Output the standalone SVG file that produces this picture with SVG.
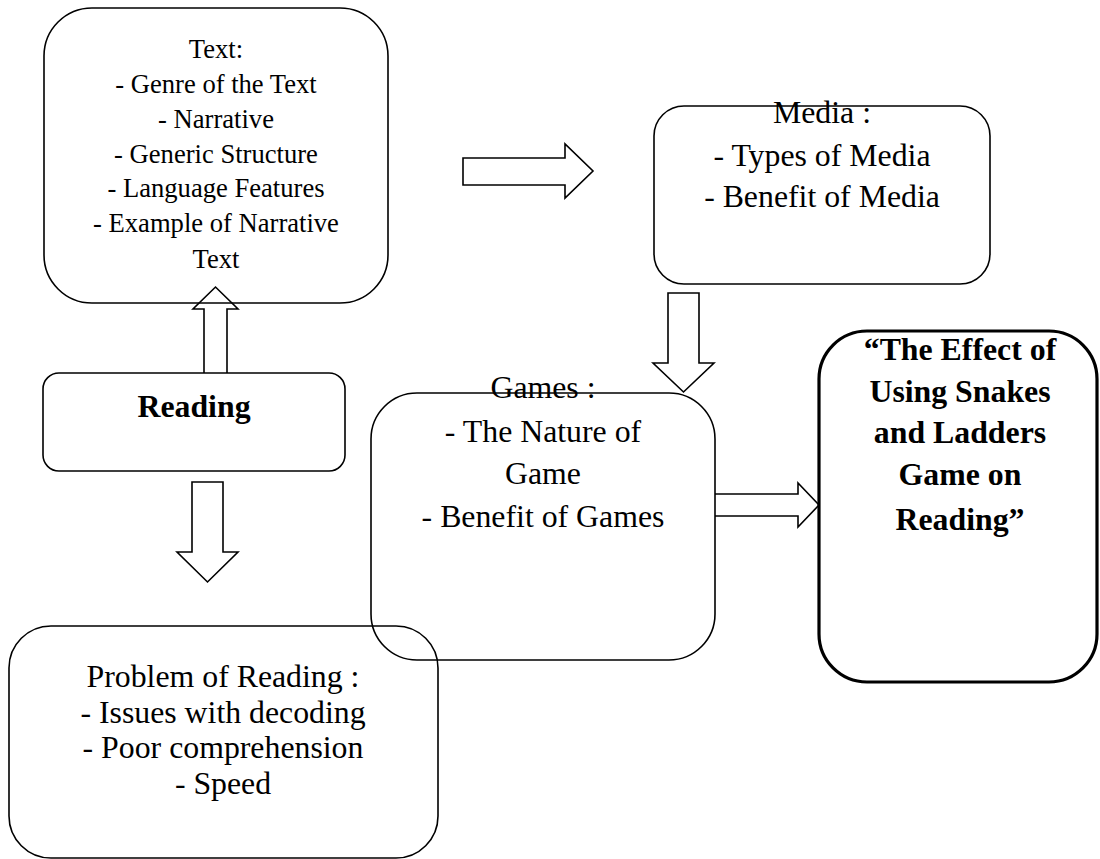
<svg xmlns="http://www.w3.org/2000/svg" width="1100" height="859" viewBox="0 0 1100 859" font-family="Liberation Serif, Times New Roman, serif">
<style>
.box{fill:none;stroke:#000;stroke-width:1.6}
.thick{fill:none;stroke:#000;stroke-width:3.2}
.arr{fill:none;stroke:#000;stroke-width:1.6;stroke-linejoin:miter}
text{fill:#000;text-anchor:middle;font-family:"Liberation Serif","Times New Roman",serif}
.s26{font-size:26.6px}
.s31{font-size:31.8px}
.b{font-weight:bold}
</style>
<rect width="1100" height="859" fill="#fff"/>
<g id="connectors">
<path class="arr" d="M463,158 H565 V144 L593,171 L565,198 V185 H463 Z"/>
<path class="arr" d="M204,373 V309 H193 L215.5,287 L238,309 H227 V373"/>
<path class="arr" d="M192,482 H223 V552 H238 L207.5,582 L177,552 H192 Z"/>
<path class="arr" d="M668,293 H699 V363 H714 L683.5,392 L653,363 H668 Z"/>
<path class="arr" d="M715,494 H798 V483 L819,505 L798,527 V516 H715"/>
</g>
<g id="text-node">
<rect class="box" x="44" y="8" width="344" height="295" rx="48" ry="48"/>
<text class="s26"><tspan x="216" y="58">Text:</tspan><tspan x="216" y="93">- Genre of the Text</tspan><tspan x="216" y="128">- Narrative</tspan><tspan x="216" y="163">- Generic Structure</tspan><tspan x="216" y="197">- Language Features</tspan><tspan x="216" y="232">- Example of Narrative</tspan><tspan x="216" y="268">Text</tspan></text>
</g>
<g id="media-node">
<rect class="box" x="654" y="106" width="336" height="178" rx="30" ry="30"/>
<text class="s31"><tspan x="822" y="123">Media :</tspan><tspan x="822" y="166">- Types of Media</tspan><tspan x="822" y="207">- Benefit of Media</tspan></text>
</g>
<g id="reading-node">
<rect class="box" x="43" y="373" width="302" height="98" rx="16" ry="16"/>
<text class="s31 b" x="194" y="417">Reading</text>
</g>
<g id="games-node">
<rect class="box" x="371" y="393" width="344" height="267" rx="46" ry="46"/>
<text class="s31"><tspan x="543" y="398">Games :</tspan><tspan x="543" y="442">- The Nature of</tspan><tspan x="543" y="484">Game</tspan><tspan x="543" y="527">- Benefit of Games</tspan></text>
</g>
<g id="effect-node">
<rect class="thick" x="819" y="331" width="278" height="351" rx="48" ry="48"/>
<text class="s31 b"><tspan x="960" y="360">“The Effect of</tspan><tspan x="960" y="402">Using Snakes</tspan><tspan x="960" y="443">and Ladders</tspan><tspan x="960" y="485">Game on</tspan><tspan x="960" y="530">Reading”</tspan></text>
</g>
<g id="problem-node">
<rect class="box" x="9" y="626" width="429" height="232" rx="42" ry="42"/>
<text class="s31"><tspan x="223" y="687">Problem of Reading :</tspan><tspan x="223" y="723">- Issues with decoding</tspan><tspan x="223" y="758">- Poor comprehension</tspan><tspan x="223" y="794">- Speed</tspan></text>
</g>
</svg>
